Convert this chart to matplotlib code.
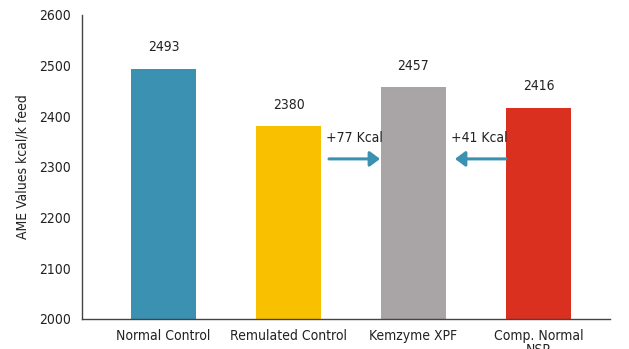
import matplotlib
matplotlib.use("Agg")
import matplotlib.pyplot as plt

categories = ["Normal Control", "Remulated Control", "Kemzyme XPF", "Comp. Normal\nNSP"]
values = [2493, 2380, 2457, 2416]
colors = ["#3a91b1", "#f9c000", "#a9a5a6", "#d9301f"]
yticks = [2000, 2100, 2200, 2300, 2400, 2500, 2600]
diff_labels = ["+77 Kcal", "+41 Kcal"]

plt.rcParams["font.family"] = ["DejaVu Sans"]
plt.rcParams["font.stretch"] = "condensed"

fig = plt.figure(figsize=(6.29, 3.49), dpi=100)
ax = fig.add_axes([82/629, 30/349, (610-82)/629, (319-15)/349])

x = list(range(len(categories)))
ax.bar(x, [v - 2000 for v in values], bottom=2000, width=0.52, color=colors)
for xi, v in zip(x, values):
    ax.text(xi, v + 43, str(v), ha="center", va="center", fontsize=10, color="#222222")

ax.set_xlim(-0.652, 3.572)
ax.set_ylim(2000, 2600)
ax.set_yticks(yticks)
ax.set_xticks(x)
ax.set_xticklabels(categories, fontsize=10, color="#222222", linespacing=1.0)
ax.tick_params(axis="both", length=0, labelsize=10, colors="#222222")
ax.tick_params(axis="y", pad=8)
ax.tick_params(axis="x", pad=7)
for s in ["top", "right"]:
    ax.spines[s].set_visible(False)
for s in ["left", "bottom"]:
    ax.spines[s].set_color("#444444")
    ax.spines[s].set_linewidth(1.0)
ax.set_ylabel("AME Values kcal/k feed", fontsize=10, color="#222222", labelpad=7)

arrow_col = "#3a91b1"
ax.annotate("", xy=(1.732, 2316), xytext=(1.324, 2316),
            arrowprops=dict(arrowstyle="-|>,head_length=0.6,head_width=0.45", color=arrow_col, lw=2.2, shrinkA=0, shrinkB=0))
ax.annotate("", xy=(2.332, 2316), xytext=(2.74, 2316),
            arrowprops=dict(arrowstyle="-|>,head_length=0.6,head_width=0.45", color=arrow_col, lw=2.2, shrinkA=0, shrinkB=0))
ax.text(1.53, 2357, diff_labels[0], ha="center", va="center", fontsize=10, color="#222222")
ax.text(2.53, 2357, diff_labels[1], ha="center", va="center", fontsize=10, color="#222222")

fig.savefig("out.png", dpi=100)
